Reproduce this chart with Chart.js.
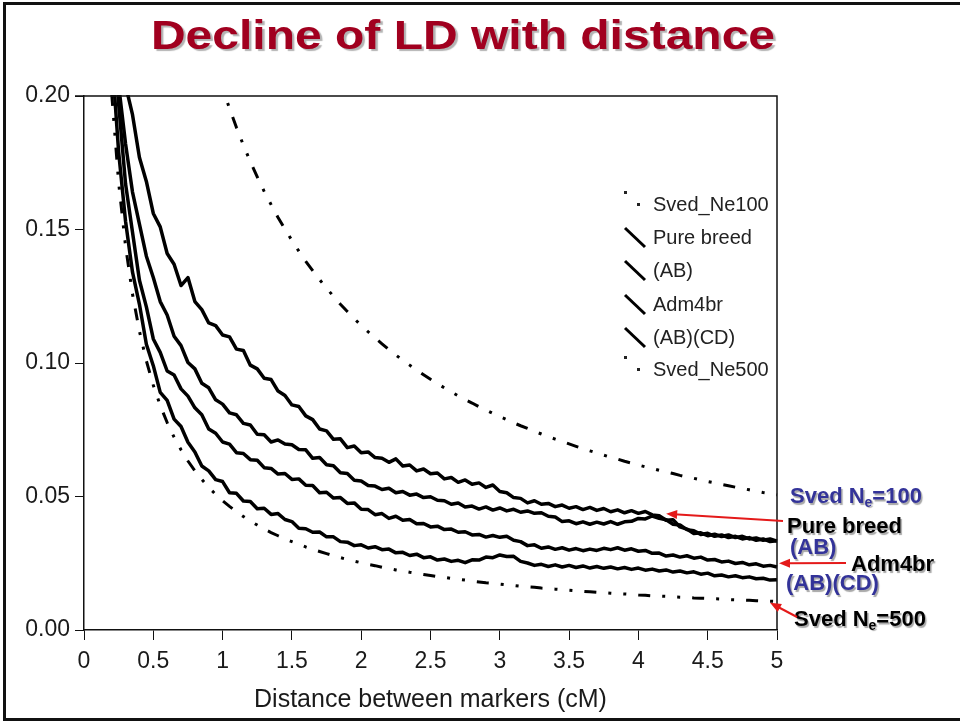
<!DOCTYPE html>
<html>
<head>
<meta charset="utf-8">
<title>Decline of LD with distance</title>
<script src="https://cdn.jsdelivr.net/npm/chart.js@4.4.1/dist/chart.umd.min.js"></script>
<style>
  html, body { margin: 0; padding: 0; background: #fff; }
  #wrap { position: relative; width: 960px; height: 723px; overflow: hidden; }
  #ld { position: absolute; left: 0; top: 0; }
  #frame { position: absolute; left: 3px; top: 2px; width: 970px; height: 719px; box-sizing: border-box;
    border-top: 3px solid #111; border-left: 3px solid #111; border-bottom: 3px solid #111; pointer-events: none; }
  #title { position: absolute; left: 0; top: 15px; width: 926px; text-align: center; white-space: nowrap;
    font: bold 40px "Liberation Sans", Arial, sans-serif; line-height: 40px; color: #a1001f;
    text-shadow: 2px 2px 1px rgba(0,0,0,0.3); transform: scaleX(1.2); transform-origin: 463px 0; }
</style>
</head>
<body>
<div id="wrap">
  <canvas id="ld" width="960" height="723"></canvas>
  <div id="title">Decline of LD with distance</div>
  <div id="frame"></div>
</div>
<script>
// distance between markers (cM), 0.05 steps
const distanceCM = [
  0.20, 0.25, 0.30, 0.35, 0.40, 0.45, 0.50, 0.55, 0.60, 0.65,
  0.70, 0.75, 0.80, 0.85, 0.90, 0.95, 1.00, 1.05, 1.10, 1.15,
  1.20, 1.25, 1.30, 1.35, 1.40, 1.45, 1.50, 1.55, 1.60, 1.65,
  1.70, 1.75, 1.80, 1.85, 1.90, 1.95, 2.00, 2.05, 2.10, 2.15,
  2.20, 2.25, 2.30, 2.35, 2.40, 2.45, 2.50, 2.55, 2.60, 2.65,
  2.70, 2.75, 2.80, 2.85, 2.90, 2.95, 3.00, 3.05, 3.10, 3.15,
  3.20, 3.25, 3.30, 3.35, 3.40, 3.45, 3.50, 3.55, 3.60, 3.65,
  3.70, 3.75, 3.80, 3.85, 3.90, 3.95, 4.00, 4.05, 4.10, 4.15,
  4.20, 4.25, 4.30, 4.35, 4.40, 4.45, 4.50, 4.55, 4.60, 4.65,
  4.70, 4.75, 4.80, 4.85, 4.90, 4.95, 5.00
];

const svedNe100 = [
  null, null, null, null, null, null, null, null, null, null,
  null, null, null, null, null, 0.2113, 0.2030, 0.1953, 0.1882, 0.1816,
  0.1754, 0.1697, 0.1643, 0.1593, 0.1545, 0.1501, 0.1459, 0.1419, 0.1381, 0.1346,
  0.1312, 0.1280, 0.1250, 0.1220, 0.1193, 0.1166, 0.1141, 0.1117, 0.1094, 0.1072,
  0.1050, 0.1030, 0.1010, 0.0992, 0.0973, 0.0956, 0.0939, 0.0923, 0.0907, 0.0892,
  0.0877, 0.0863, 0.0850, 0.0836, 0.0824, 0.0811, 0.0799, 0.0788, 0.0776, 0.0765,
  0.0755, 0.0744, 0.0734, 0.0724, 0.0715, 0.0706, 0.0697, 0.0688, 0.0679, 0.0671,
  0.0663, 0.0655, 0.0647, 0.0640, 0.0632, 0.0625, 0.0618, 0.0611, 0.0605, 0.0598,
  0.0592, 0.0586, 0.0579, 0.0573, 0.0568, 0.0562, 0.0556, 0.0551, 0.0545, 0.0540,
  0.0535, 0.0530, 0.0525, 0.0520, 0.0515, 0.0511, 0.0506
];

const pureBreed = [
  0.262, 0.236, 0.204, 0.193, 0.177, 0.168, 0.156, 0.151, 0.141, 0.137,
  0.129, 0.132, 0.123, 0.120, 0.115, 0.114, 0.1105, 0.1098, 0.1052, 0.1047,
  0.0992, 0.0978, 0.0943, 0.0938, 0.0895, 0.0878, 0.0843, 0.0837, 0.0802, 0.0788,
  0.0753, 0.0746, 0.0714, 0.0716, 0.0683, 0.0689, 0.0664, 0.0667, 0.0646, 0.0643,
  0.0628, 0.0641, 0.0614, 0.0618, 0.0596, 0.0603, 0.0585, 0.0588, 0.0566, 0.0571,
  0.0553, 0.0562, 0.0546, 0.0551, 0.0534, 0.0543, 0.0519, 0.0514, 0.0496, 0.0493,
  0.0476, 0.0484, 0.0471, 0.0474, 0.0462, 0.0468, 0.0456, 0.0462, 0.0451, 0.0459,
  0.0448, 0.0455, 0.0443, 0.0450, 0.0439, 0.0447, 0.0437, 0.0444, 0.0431, 0.0428,
  0.0411, 0.0413, 0.0386, 0.0378, 0.0361, 0.0364, 0.0353, 0.0359, 0.0350, 0.0356,
  0.0346, 0.0351, 0.0341, 0.0345, 0.0336, 0.0341, 0.0333
];

const crossAB = [
  0.250, 0.204, 0.182, 0.164, 0.152, 0.140, 0.132, 0.123, 0.118, 0.110,
  0.1065, 0.1002, 0.0978, 0.0924, 0.0907, 0.0862, 0.0846, 0.0813, 0.0806, 0.0774,
  0.0768, 0.0733, 0.0731, 0.0704, 0.0712, 0.0697, 0.0694, 0.0676, 0.0675, 0.0643,
  0.0646, 0.0619, 0.0615, 0.0589, 0.0586, 0.0561, 0.0558, 0.0541, 0.0539, 0.0526,
  0.0531, 0.0514, 0.0519, 0.0505, 0.0509, 0.0496, 0.0499, 0.0486, 0.0484, 0.0471,
  0.0476, 0.0461, 0.0464, 0.0453, 0.0461, 0.0449, 0.0457, 0.0446, 0.0452, 0.0441,
  0.0446, 0.0437, 0.0439, 0.0426, 0.0423, 0.0406, 0.0409, 0.0398, 0.0405, 0.0396,
  0.0404, 0.0397, 0.0406, 0.0396, 0.0405, 0.0407, 0.0418, 0.0416, 0.0427, 0.0418,
  0.0413, 0.0396, 0.0393, 0.0376, 0.0372, 0.0358, 0.0362, 0.0351, 0.0356, 0.0346,
  0.0351, 0.0341, 0.0346, 0.0336, 0.0341, 0.0331, 0.0334
];

const adm4br = [
  0.240, 0.197, 0.167, 0.149, 0.131, 0.121, 0.109, 0.104, 0.097, 0.0955,
  0.0903, 0.0876, 0.0832, 0.0806, 0.0753, 0.0737, 0.0704, 0.0696, 0.0664, 0.0661,
  0.0638, 0.0636, 0.0608, 0.0605, 0.0584, 0.0586, 0.0564, 0.0566, 0.0542, 0.0541,
  0.0514, 0.0516, 0.0494, 0.0496, 0.0474, 0.0476, 0.0452, 0.0451, 0.0432, 0.0436,
  0.0418, 0.0426, 0.0411, 0.0414, 0.0398, 0.0399, 0.0386, 0.0389, 0.0376, 0.0378,
  0.0366, 0.0368, 0.0356, 0.0358, 0.0348, 0.0354, 0.0347, 0.0351, 0.0336, 0.0331,
  0.0316, 0.0319, 0.0306, 0.0311, 0.0302, 0.0308, 0.0299, 0.0305, 0.0297, 0.0303,
  0.0298, 0.0306, 0.0301, 0.0308, 0.0299, 0.0304, 0.0295, 0.0298, 0.0287, 0.0288,
  0.0277, 0.0281, 0.0273, 0.0278, 0.0269, 0.0273, 0.0262, 0.0264, 0.0255, 0.0258,
  0.0249, 0.0253, 0.0244, 0.0248, 0.0239, 0.0242, 0.0236
];

const crossABCD = [
  0.216, 0.179, 0.153, 0.134, 0.122, 0.107, 0.099, 0.089, 0.086, 0.079,
  0.0762, 0.0703, 0.0667, 0.0614, 0.0596, 0.0563, 0.0556, 0.0514, 0.0512, 0.0483,
  0.0481, 0.0454, 0.0456, 0.0433, 0.0436, 0.0414, 0.0406, 0.0381, 0.0379, 0.0366,
  0.0367, 0.0349, 0.0349, 0.0331, 0.0329, 0.0316, 0.0319, 0.0307, 0.0312, 0.0301,
  0.0303, 0.0289, 0.0291, 0.0279, 0.0284, 0.0271, 0.0274, 0.0262, 0.0266, 0.0257,
  0.0261, 0.0252, 0.0263, 0.0262, 0.0273, 0.0271, 0.0281, 0.0275, 0.0276, 0.0257,
  0.0251, 0.0242, 0.0246, 0.0238, 0.0244, 0.0236, 0.0242, 0.0234, 0.0240, 0.0232,
  0.0238, 0.0231, 0.0236, 0.0229, 0.0234, 0.0227, 0.0232, 0.0224, 0.0228, 0.0221,
  0.0225, 0.0217, 0.0221, 0.0214, 0.0218, 0.0209, 0.0213, 0.0203, 0.0206, 0.0199,
  0.0203, 0.0196, 0.0199, 0.0192, 0.0194, 0.0187, 0.0188
];

const svedNe500 = [
  0.2008, 0.1675, 0.1437, 0.1258, 0.1119, 0.1008, 0.0917, 0.0841, 0.0777, 0.0722,
  0.0675, 0.0633, 0.0596, 0.0564, 0.0534, 0.0508, 0.0484, 0.0463, 0.0443, 0.0425,
  0.0408, 0.0393, 0.0378, 0.0365, 0.0353, 0.0341, 0.0331, 0.0321, 0.0311, 0.0302,
  0.0294, 0.0286, 0.0278, 0.0271, 0.0264, 0.0258, 0.0252, 0.0246, 0.0241, 0.0235,
  0.0230, 0.0225, 0.0221, 0.0216, 0.0212, 0.0208, 0.0204, 0.0200, 0.0197, 0.0193,
  0.0190, 0.0187, 0.0183, 0.0180, 0.0177, 0.0175, 0.0172, 0.0169, 0.0167, 0.0164,
  0.0162, 0.0160, 0.0157, 0.0155, 0.0153, 0.0151, 0.0149, 0.0147, 0.0145, 0.0143,
  0.0141, 0.0140, 0.0138, 0.0136, 0.0135, 0.0133, 0.0131, 0.0130, 0.0128, 0.0127,
  0.0126, 0.0124, 0.0123, 0.0122, 0.0120, 0.0119, 0.0118, 0.0117, 0.0116, 0.0114,
  0.0113, 0.0112, 0.0111, 0.0110, 0.0109, 0.0108, 0.0107
];

const xTicks = [0, 0.5, 1, 1.5, 2, 2.5, 3, 3.5, 4, 4.5, 5];
const yTicks = [0, 0.05, 0.10, 0.15, 0.20];

const FONT = '"Liberation Sans", Arial, sans-serif';
Chart.defaults.font.family = FONT;
Chart.defaults.color = '#1a1a1a';

const toPoints = arr => distanceCM.map((d, i) => ({ x: d, y: arr[i] }));
const dashDotDot = [12, 12, 3, 12, 3, 12];

function series(label, arr, dashed) {
  return {
    label: label,
    data: toPoints(arr),
    borderColor: '#000',
    borderWidth: dashed ? 3 : 3.5,
    borderDash: dashed ? dashDotDot : [],
    borderJoinStyle: 'round',
    pointRadius: 0,
    tension: 0,
    spanGaps: false,
    clip: 1
  };
}

function drawArrow(ctx, x0, y0, x1, y1) {
  const a = Math.atan2(y1 - y0, x1 - x0);
  const c = Math.cos(a), s = Math.sin(a);
  ctx.strokeStyle = '#e41a1a';
  ctx.fillStyle = '#e41a1a';
  ctx.lineWidth = 2;
  ctx.beginPath();
  ctx.moveTo(x0, y0);
  ctx.lineTo(x1 - 8 * c, y1 - 8 * s);
  ctx.stroke();
  ctx.beginPath();
  ctx.moveTo(x1, y1);
  ctx.lineTo(x1 - 11 * c + 4.5 * s, y1 - 11 * s - 4.5 * c);
  ctx.lineTo(x1 - 11 * c - 4.5 * s, y1 - 11 * s + 4.5 * c);
  ctx.closePath();
  ctx.fill();
}

// label with optional subscript pieces: [[text, isSub], ...]
function drawLabel(ctx, parts, x, y, color) {
  ctx.save();
  ctx.fillStyle = color;
  ctx.textBaseline = 'middle';
  ctx.textAlign = 'left';
  ctx.shadowColor = 'rgba(0,0,0,0.35)';
  ctx.shadowOffsetX = 1.5;
  ctx.shadowOffsetY = 1.5;
  ctx.shadowBlur = 1;
  let cx = x;
  parts.forEach(([txt, sub]) => {
    ctx.font = sub ? 'bold 14px ' + FONT : 'bold 22px ' + FONT;
    ctx.fillText(txt, cx, sub ? y + 6 : y);
    cx += ctx.measureText(txt).width;
  });
  ctx.restore();
}

const extras = {
  id: 'extras',
  afterDraw(chart) {
    const { ctx, chartArea: ca, scales } = chart;
    const x = scales.x, y = scales.y;
    ctx.save();
    // top and right frame of the plot box
    ctx.strokeStyle = '#111';
    ctx.lineWidth = 1.5;
    ctx.beginPath();
    ctx.moveTo(ca.left - 9, ca.top);
    ctx.lineTo(ca.right, ca.top);
    ctx.lineTo(ca.right, ca.bottom);
    ctx.stroke();

    // legend inside plot
    const rowsY = [205, 238, 271, 305, 338, 370];
    ctx.font = '20px ' + FONT;
    ctx.textBaseline = 'middle';
    ctx.fillStyle = '#222';
    chart.data.datasets.forEach((ds, i) => {
      const yc = rowsY[i];
      if (ds.borderDash.length) {
        ctx.fillRect(624, yc - 14, 3, 3);
        ctx.fillRect(637, yc - 2, 3, 3);
      } else {
        ctx.strokeStyle = '#000';
        ctx.lineWidth = 3;
        ctx.beginPath();
        ctx.moveTo(625, yc - 10);
        ctx.lineTo(645, yc + 9);
        ctx.stroke();
      }
      ctx.fillText(ds.label, 653, yc);
    });
    ctx.restore();

    // annotations on the right
    const blue = '#333399';
    drawLabel(ctx, [['Sved N', false], ['e', true], ['=100', false]], 790, 497, blue);
    drawLabel(ctx, [['Pure breed', false]], 787, 527, '#000');
    drawLabel(ctx, [['(AB)', false]], 790, 548, blue);
    drawLabel(ctx, [['Adm4br', false]], 851, 565, '#000');
    drawLabel(ctx, [['(AB)(CD)', false]], 786, 584, blue);
    drawLabel(ctx, [['Sved N', false], ['e', true], ['=500', false]], 794, 620, '#000');

    ctx.save();
    drawArrow(ctx, 783, 521, x.getPixelForValue(4.2), y.getPixelForValue(0.0435));
    drawArrow(ctx, 846, 563, x.getPixelForValue(5.0) + 2, y.getPixelForValue(0.025));
    drawArrow(ctx, 797, 617, x.getPixelForValue(4.95), y.getPixelForValue(0.0102));
    ctx.restore();
  }
};

new Chart(document.getElementById('ld'), {
  type: 'line',
  data: {
    datasets: [
      series('Sved_Ne100', svedNe100, true),
      series('Pure breed', pureBreed, false),
      series('(AB)', crossAB, false),
      series('Adm4br', adm4br, false),
      series('(AB)(CD)', crossABCD, false),
      series('Sved_Ne500', svedNe500, true)
    ]
  },
  options: {
    responsive: false,
    animation: false,
    events: [],
    layout: { padding: { left: 0, top: 96, right: 183, bottom: 0 } },
    plugins: { legend: { display: false }, title: { display: false }, tooltip: { enabled: false } },
    scales: {
      x: {
        type: 'linear',
        min: 0,
        max: 5,
        afterBuildTicks: s => { s.ticks = xTicks.map(v => ({ value: v })); },
        afterFit: s => { s.height = 93; },
        ticks: { font: { size: 23 }, padding: 8, maxRotation: 0, autoSkip: false, callback: v => String(v) },
        grid: { drawOnChartArea: false, tickLength: 10, color: '#111', lineWidth: 1 },
        border: { color: '#111', width: 1.5 },
        title: {
          display: true,
          text: 'Distance between markers (cM)',
          font: { size: 25 },
          color: '#1a1a1a',
          padding: { top: 0, bottom: 8 }
        }
      },
      y: {
        min: 0,
        max: 0.2,
        afterBuildTicks: s => { s.ticks = yTicks.map(v => ({ value: v })); },
        afterFit: s => { s.width = 84; },
        ticks: { font: { size: 23 }, padding: 5, callback: v => v.toFixed(2) },
        grid: { drawOnChartArea: false, tickLength: 9, color: '#111', lineWidth: 1 },
        border: { color: '#111', width: 1.5 }
      }
    }
  },
  plugins: [extras]
});
</script>
</body>
</html>
